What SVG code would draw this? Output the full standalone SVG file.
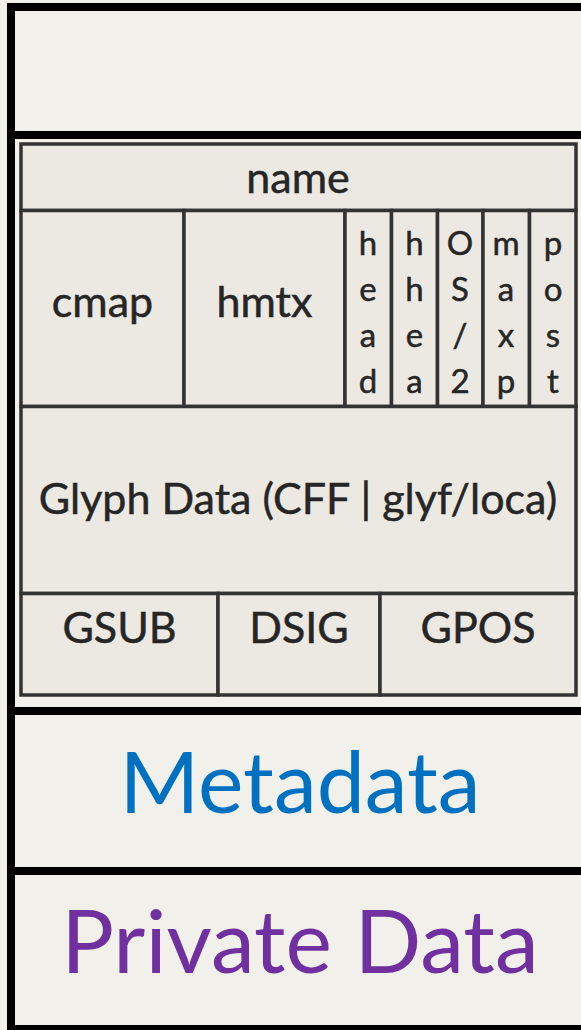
<svg xmlns="http://www.w3.org/2000/svg" width="581" height="1030" viewBox="0 0 581 1030">
<style>
.sec{fill:#F2F0EB;}
.cell{fill:#ECE9E2;stroke:#333;stroke-width:3.5;}
.band{fill:#000;}
.t{font-family:Lato,"Noto Sans",sans-serif;fill:#262626;text-anchor:middle;stroke:#262626;stroke-width:0.5;}
.lg{font-size:43px;}
.sm{font-size:33px;}
.big{font-family:Lato,"Noto Sans",sans-serif;text-anchor:middle;}
</style>
<rect x="0" y="0" width="581" height="1030" fill="#F2F0EB"/>
<g id="frame">
<rect x="7" y="3" width="580" height="8" class="band"/>
<rect x="7" y="3" width="8" height="1027" class="band"/>
<rect x="7" y="1025" width="580" height="8" class="band"/>
<rect x="15" y="131" width="570" height="8" class="band"/>
<rect x="15" y="707" width="570" height="8" class="band"/>
<rect x="15" y="867" width="570" height="8" class="band"/>
</g>
<g id="header-section"><rect x="15" y="11" width="570" height="120" class="sec"/></g>
<g id="tables">
<g id="name"><rect x="21" y="144" width="555" height="66.5" class="cell"/><text x="298" y="193" class="t lg">name</text></g>
<g id="cmap"><rect x="21" y="210.5" width="163" height="196" class="cell"/><text x="102.5" y="317" class="t lg">cmap</text></g>
<g id="hmtx"><rect x="184" y="210.5" width="161" height="196" class="cell"/><text x="264.5" y="317" class="t lg">hmtx</text></g>
<g id="head"><rect x="345" y="210.5" width="46.5" height="196" class="cell"/>
<text class="t sm"><tspan x="368" y="255">h</tspan><tspan x="368" y="301">e</tspan><tspan x="368" y="347">a</tspan><tspan x="368" y="393">d</tspan></text></g>
<g id="hhea"><rect x="391.5" y="210.5" width="46" height="196" class="cell"/>
<text class="t sm"><tspan x="414.5" y="255">h</tspan><tspan x="414.5" y="301">h</tspan><tspan x="414.5" y="347">e</tspan><tspan x="414.5" y="393">a</tspan></text></g>
<g id="OS2"><rect x="437.5" y="210.5" width="45.5" height="196" class="cell"/>
<text class="t sm"><tspan x="460" y="255">O</tspan><tspan x="460" y="301">S</tspan><tspan x="460" y="347">/</tspan><tspan x="460" y="393">2</tspan></text></g>
<g id="maxp"><rect x="483" y="210.5" width="46.5" height="196" class="cell"/>
<text class="t sm"><tspan x="506" y="255">m</tspan><tspan x="506" y="301">a</tspan><tspan x="506" y="347">x</tspan><tspan x="506" y="393">p</tspan></text></g>
<g id="post"><rect x="529.5" y="210.5" width="46.5" height="196" class="cell"/>
<text class="t sm"><tspan x="553" y="255">p</tspan><tspan x="553" y="301">o</tspan><tspan x="553" y="347">s</tspan><tspan x="553" y="393">t</tspan></text></g>
<g id="glyph-data"><rect x="21" y="406.5" width="555" height="187" class="cell"/><text x="298" y="514" class="t lg">Glyph Data (CFF | glyf/loca)</text></g>
<g id="GSUB"><rect x="21" y="593.5" width="197" height="101.5" class="cell"/><text x="119.5" y="643" class="t lg">GSUB</text></g>
<g id="DSIG"><rect x="218" y="593.5" width="162" height="101.5" class="cell"/><text x="299" y="643" class="t lg">DSIG</text></g>
<g id="GPOS"><rect x="380" y="593.5" width="196" height="101.5" class="cell"/><text x="478" y="643" class="t lg">GPOS</text></g>
</g>
<g id="metadata"><text x="300" y="813" class="big" font-size="86" fill="#0070C0">Metadata</text></g>
<g id="private-data"><text x="300" y="973" class="big" font-size="88" fill="#7030A0">Private Data</text></g>
<g id="connectors"></g>
</svg>
